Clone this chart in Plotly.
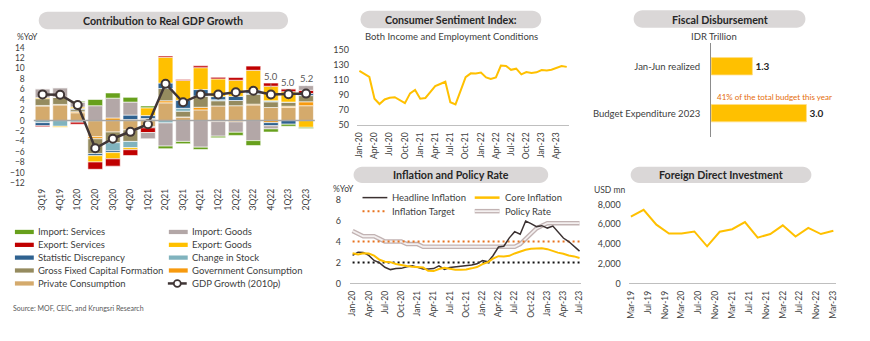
import plotly.graph_objects as go
import pandas as pd

W, H = 870, 341
FONT = "Lato"
TC = "#404040"
TITLE_C = "#262626"
PILL_C = "#dad7d7"

def px(x):
    return x / W

def py(y):
    return 1 - y / H

# ---------------- DATA ----------------
quarters = ["3Q19", "4Q19", "1Q20", "2Q20", "3Q20", "4Q20", "1Q21", "2Q21",
            "3Q21", "4Q21", "1Q22", "2Q22", "3Q22", "4Q22", "1Q23", "2Q23"]
private_cons = [2.8, 3.0, 1.5, -3.1, -2.2, -1.8, -1.2, 3.4, 0.7, 2.05, 2.8, 2.85, 3.0, 2.5, 2.5, 2.85]
gov_cons = [0.1, 0.1, 0.2, -0.4, 0.5, 0.2, 0.2, 0.4, 0.0, 0.5, -0.2, -0.25, 0.15, -0.4, 0.25, 0.75]
gfcf = [1.3, 1.4, 0.4, -2.85, -2.05, -2.2, 0.2, 2.35, 1.1, 2.15, 1.0, 1.0, 1.9, 1.1, 0.8, 1.2]
change_stock = [-0.4, -1.1, -0.3, 0.0, -1.55, -1.2, -0.2, -0.45, 0.55, 0.0, 0.2, 0.0, 0.2, 0.2, 0.0, 0.0]
stat_disc = [-0.6, 0.0, 0.2, -0.4, -0.35, 0.85, 0.55, 1.05, 1.55, 1.25, 0.6, 0.8, 0.6, -0.6, -0.7, 0.4]
export_goods = [0.2, -0.2, 0.3, -1.2, -1.2, -0.4, 1.5, 4.95, 3.8, 4.2, 3.4, 3.1, 3.8, 2.8, 2.0, -1.3]
export_serv = [-0.2, 0.0, -0.4, -1.4, -1.4, -1.1, -0.9, 0.25, 0.2, 0.35, 0.3, 0.5, 0.8, 0.6, 0.55, 0.6]
import_goods = [1.7, 1.8, 0.9, 2.85, 3.8, 2.5, -1.2, -4.45, -4.0, -5.1, -2.8, -2.0, -3.85, -0.6, 0.0, 0.9]
import_serv = [0.0, 0.0, 0.2, 1.2, 1.0, 0.9, 0.35, -0.5, -0.45, -0.45, -0.3, -0.6, -0.95, -0.6, -0.4, -0.2]
gdp_growth = [5.02, 4.97, 2.97, -5.32, -3.49, -2.17, -0.70, 7.07, 3.51, 5.02, 5.01, 5.44, 5.72, 5.01, 5.04, 5.17]
gdp_labelled = ["4Q22", "1Q23", "2Q23"]

csi_months = pd.date_range("2020-01-01", "2023-06-01", freq="MS")
csi_values = [121.7, 117.7, 113.8, 84.8, 77.8, 83.8, 86.2, 86.9, 83.4, 79.0, 92.0, 96.5,
              84.9, 85.8, 93.4, 101.5, 104.4, 107.4, 80.2, 77.3, 95.5, 113.4, 118.5, 118.3,
              119.6, 113.1, 111.0, 113.1, 128.9, 128.2, 123.2, 124.7, 117.2, 120.3, 119.1, 119.9,
              123.0, 122.4, 123.3, 126.1, 128.3, 127.1]

fiscal_cats = ["Jan-Jun realized", "Budget Expenditure 2023"]
fiscal_values = [1.3, 3.0]

infl_months = pd.date_range("2020-01-01", "2023-07-01", freq="MS")
headline = [2.68, 2.98, 2.96, 2.67, 2.19, 1.96, 1.54, 1.32, 1.42, 1.44, 1.59, 1.68,
            1.55, 1.38, 1.37, 1.42, 1.68, 1.33, 1.52, 1.59, 1.60, 1.66, 1.75, 1.87,
            2.18, 2.06, 2.64, 3.47, 3.55, 4.35, 4.94, 4.69, 5.95, 5.71, 5.42, 5.51,
            5.28, 5.47, 4.97, 4.33, 4.00, 3.52, 3.08]
core = [2.88, 2.76, 2.87, 2.85, 2.65, 2.26, 2.07, 2.03, 1.86, 1.74, 1.67, 1.60,
        1.56, 1.53, 1.21, 1.18, 1.37, 1.49, 1.40, 1.31, 1.30, 1.33, 1.44, 1.56,
        1.84, 2.03, 2.37, 2.60, 2.58, 2.63, 2.86, 3.04, 3.21, 3.31, 3.30, 3.36,
        3.27, 3.09, 2.94, 2.83, 2.66, 2.58, 2.43]
policy_rate = [5.00, 4.75, 4.50, 4.50, 4.50, 4.25, 4.00, 4.00, 4.00, 4.00, 3.75, 3.75,
               3.75, 3.50, 3.50, 3.50, 3.50, 3.50, 3.50, 3.50, 3.50, 3.50, 3.50, 3.50,
               3.50, 3.50, 3.50, 3.50, 3.50, 3.50, 3.50, 3.75, 4.25, 4.75, 5.25, 5.50,
               5.75, 5.75, 5.75, 5.75, 5.75, 5.75, 5.75]
target_upper = 4.0
target_lower = 2.0

fdi_quarters = ["2019-03-01", "2019-06-01", "2019-09-01", "2019-12-01", "2020-03-01", "2020-06-01",
                "2020-09-01", "2020-12-01", "2021-03-01", "2021-06-01", "2021-09-01", "2021-12-01",
                "2022-03-01", "2022-06-01", "2022-09-01", "2022-12-01", "2023-03-01"]
fdi_values = [6760, 7450, 5950, 5060, 5060, 5260, 3760, 5230, 5490, 6210, 4640, 5000,
              5880, 4740, 5620, 5000, 5330]

# ---------------- STYLE ----------------
components = [
    ("Private Consumption", private_cons, "#d4aa6c"),
    ("Government Consumption", gov_cons, "#f79a0e"),
    ("Gross Fixed Capital Formation", gfcf, "#958b5f"),
    ("Change in Stock", change_stock, "#80b3be"),
    ("Statistic Discrepancy", stat_disc, "#2f6290"),
    ("Export: Goods", export_goods, "#ffc000"),
    ("Export: Services", export_serv, "#c00000"),
    ("Import: Goods", import_goods, "#b3a7a7"),
    ("Import: Services", import_serv, "#67a01c"),
]
comp_color = {n: c for n, _, c in components}
GDP_NAME = "GDP Growth (2010p)"
GDP_C = "#3f3535"
YEL = "#ffc000"

fig = go.Figure()

for name, vals, color in components:
    fig.add_trace(go.Bar(x=quarters, y=vals, name=name, width=0.84,
                         marker=dict(color=color, line=dict(color="white", width=0.6)),
                         xaxis="x", yaxis="y", showlegend=False))
fig.add_trace(go.Scatter(x=quarters, y=gdp_growth, name=GDP_NAME, mode="lines+markers",
                         line=dict(color=GDP_C, width=2.5),
                         marker=dict(size=8, color="white", line=dict(color=GDP_C, width=2)),
                         xaxis="x", yaxis="y", showlegend=False))

fig.add_trace(go.Scatter(x=csi_months, y=csi_values, mode="lines", name="CSI",
                         line=dict(color=YEL, width=2), xaxis="x2", yaxis="y2", showlegend=False))

fig.add_trace(go.Bar(y=fiscal_cats, x=fiscal_values, orientation="h", width=0.37,
                     marker=dict(color=YEL, line=dict(color="#ffe08a", width=0.8)),
                     texttemplate="<b>%{x:.1f}</b>", textposition="outside", cliponaxis=False,
                     textfont=dict(size=10, color=TITLE_C, family=FONT),
                     xaxis="x3", yaxis="y3", showlegend=False))

# inflation
fig.add_trace(go.Scatter(x=infl_months, y=policy_rate, mode="lines", line=dict(color="#c2b3b3", width=4.5),
                         xaxis="x4", yaxis="y4", showlegend=False, name="Policy Rate"))
fig.add_trace(go.Scatter(x=infl_months, y=policy_rate, mode="lines", line=dict(color="#f4f0f0", width=1.8),
                         xaxis="x4", yaxis="y4", showlegend=False, hoverinfo="skip"))
fig.add_trace(go.Scatter(x=[infl_months[0], infl_months[-1]], y=[target_upper, target_upper], mode="lines",
                         line=dict(color="#e8731f", width=2, dash="2px,3px"),
                         xaxis="x4", yaxis="y4", showlegend=False, name="Inflation Target"))
fig.add_trace(go.Scatter(x=[infl_months[0], infl_months[-1]], y=[target_lower, target_lower], mode="lines",
                         line=dict(color="#111111", width=2, dash="2px,3px"),
                         xaxis="x4", yaxis="y4", showlegend=False, name="Inflation Target (lower)"))
fig.add_trace(go.Scatter(x=infl_months, y=headline, mode="lines", line=dict(color="#3b3131", width=1.5),
                         xaxis="x4", yaxis="y4", showlegend=False, name="Headline Inflation"))
fig.add_trace(go.Scatter(x=infl_months, y=core, mode="lines", line=dict(color=YEL, width=2),
                         xaxis="x4", yaxis="y4", showlegend=False, name="Core Inflation"))

fig.add_trace(go.Scatter(x=fdi_quarters, y=fdi_values, mode="lines", line=dict(color=YEL, width=2),
                         xaxis="x5", yaxis="y5", showlegend=False, name="FDI"))

tickf = dict(size=9, color=TC, family=FONT)
xtickf = dict(size=8.5, color=TC, family=FONT)
common = dict(showgrid=False, zeroline=False, ticks="", fixedrange=True)

fig.update_layout(
    width=W, height=H, autosize=False,
    margin=dict(l=0, r=0, t=0, b=0),
    paper_bgcolor="white", plot_bgcolor="white",
    barmode="relative",
    font=dict(family=FONT, color=TC),
    xaxis=dict(domain=[px(31), px(314)], anchor="y", type="category", range=[-0.5, 15.5],
               tickangle=-90, tickfont=xtickf, ticklabelstandoff=3, **common),
    yaxis=dict(domain=[py(183), py(43)], anchor="x", range=[-12, 14], dtick=2,
               tickfont=dict(size=8.5, color=TC, family=FONT), ticklabelstandoff=8, **common),
    xaxis2=dict(domain=[px(356.5), px(570)], anchor="y2", type="date",
                range=["2019-12-18", "2023-06-15"], dtick="M3", tick0="2020-01-01", tickformat="%b-%y",
                tickangle=-90, tickfont=xtickf, showline=True, linecolor="#bfbfbf", linewidth=1,
                ticklabelstandoff=3, **common),
    yaxis2=dict(domain=[py(123), py(45)], anchor="x2", range=[49.9, 150.1], dtick=20, tick0=50,
                tickfont=tickf, ticklabelstandoff=7, **common),
    xaxis3=dict(domain=[px(713), px(841)], anchor="y3", range=[0, 4], visible=False, fixedrange=True),
    yaxis3=dict(domain=[py(135), py(38)], anchor="x3", type="category", categoryorder="array",
                categoryarray=list(reversed(fiscal_cats)), showline=True, linecolor="#8c8c8c",
                linewidth=1, tickfont=dict(size=9.5, color=TC, family=FONT), ticklabelstandoff=8, **common),
    xaxis4=dict(domain=[px(349.5), px(582.5)], anchor="y4", type="date",
                range=["2019-12-18", "2023-07-12"], dtick="M3", tick0="2020-01-01", tickformat="%b-%y",
                tickangle=-90, tickfont=xtickf, showline=True, linecolor="#bfbfbf", linewidth=1,
                ticklabelstandoff=3, **common),
    yaxis4=dict(domain=[py(286.7), py(200)], anchor="x4", range=[0, 8], dtick=2,
                tickfont=tickf, ticklabelstandoff=8, **common),
    xaxis5=dict(domain=[px(630), px(838.5)], anchor="y5", type="date",
                range=["2019-02-13", "2023-03-18"], dtick="M4", tick0="2019-03-01", tickformat="%b-%y",
                tickangle=-90, tickfont=xtickf, showline=True, linecolor="#bfbfbf", linewidth=1,
                ticklabelstandoff=3, **common),
    yaxis5=dict(domain=[py(286.7), py(205)], anchor="x5", range=[0, 8000], dtick=2000, tickformat=",d",
                tickfont=tickf, ticklabelstandoff=7, **common),
)

shapes = []
annos = []

def pill(x0, y0, x1, y1):
    r = (y1 - y0) / 2
    k = 0.5523 * r
    def P(x, y):
        return f"{px(x):.5f},{py(y):.5f}"
    path = (f"M {P(x0 + r, y0)} L {P(x1 - r, y0)} "
            f"C {P(x1 - r + k, y0)} {P(x1, y0 + r - k)} {P(x1, y0 + r)} "
            f"C {P(x1, y0 + r + k)} {P(x1 - r + k, y1)} {P(x1 - r, y1)} "
            f"L {P(x0 + r, y1)} "
            f"C {P(x0 + r - k, y1)} {P(x0, y0 + r + k)} {P(x0, y0 + r)} "
            f"C {P(x0, y0 + r - k)} {P(x0 + r - k, y0)} {P(x0 + r, y0)} Z")
    shapes.append(dict(type="path", xref="paper", yref="paper", path=path,
                       fillcolor=PILL_C, line=dict(width=0), layer="below"))

def text(x, y, s, size=9.5, color=TC, xanchor="left", bold=False):
    annos.append(dict(xref="paper", yref="paper", x=px(x), y=py(y), text=(f"<b>{s}</b>" if bold else s),
                      showarrow=False, xanchor=xanchor, yanchor="middle",
                      font=dict(size=size, color=color, family=FONT)))

# titles
for (x0, y0, x1, y1, t) in [(36, 6, 287, 24, "Contribution to Real GDP Growth"),
                            (360, 5, 542, 23, "Consumer Sentiment Index:"),
                            (635, 4.5, 808, 22.5, "Fiscal Disbursement"),
                            (353, 166, 549, 183, "Inflation and Policy Rate"),
                            (632, 166, 814, 183, "Foreign Direct Investment")]:
    pill(x0, y0, x1, y1)
    text((x0 + x1) / 2, (y0 + y1) / 2, t, size=10.7, color=TITLE_C, xanchor="center", bold=True)

text(452, 32, "Both Income and Employment Conditions", size=9.5, xanchor="center")
text(12, 32, "%YoY", size=8.5)
text(330, 189, "%YoY", size=8.5)
text(593, 190, "USD mn", size=8.5)
text(716, 32, "IDR Trillion", size=9.5, xanchor="center")
text(717, 94, "41% of the total budget this year", size=8, color="#e46c0a")
text(8, 313, "Source: MOF, CEIC, and Krungsri Research", size=7, color="#595959")

# GDP zero line
shapes.append(dict(type="line", xref="x domain", yref="y", x0=0, x1=1, y0=0, y1=0,
                   line=dict(color="#a6a6a6", width=1.5), layer="above"))

# GDP data labels
for q in gdp_labelled:
    i = quarters.index(q)
    top = sum(v[i] for _, v, _ in components if v[i] > 0)
    annos.append(dict(xref="x", yref="y", x=q, y=gdp_growth[i], text=f"{gdp_growth[i]:.1f}",
                      showarrow=True, arrowhead=0, arrowwidth=0.7, arrowcolor="#a6a6a6",
                      ax=0, ayref="y", ay=top + 1.3, standoff=6,
                      font=dict(size=9.5, color="#595959", family=FONT)))

# GDP legend (manual, 2 columns)
rows = [233.5, 246.8, 260, 273.3, 286.7]
left_items = ["Import: Services", "Export: Services", "Statistic Discrepancy",
              "Gross Fixed Capital Formation", "Private Consumption"]
right_items = ["Import: Goods", "Export: Goods", "Change in Stock", "Government Consumption", GDP_NAME]
for col_x, items in [(12, left_items), (167, right_items)]:
    for name, yy in zip(items, rows):
        if name == GDP_NAME:
            shapes.append(dict(type="line", xref="paper", yref="paper", x0=px(col_x - 1), x1=px(col_x + 18),
                               y0=py(yy), y1=py(yy), line=dict(color=GDP_C, width=2.5)))
            shapes.append(dict(type="circle", xref="paper", yref="paper", x0=px(col_x + 5), x1=px(col_x + 12),
                               y0=py(yy + 3.5), y1=py(yy - 3.5), fillcolor="white",
                               line=dict(color=GDP_C, width=1.8)))
        else:
            shapes.append(dict(type="rect", xref="paper", yref="paper", x0=px(col_x), x1=px(col_x + 19),
                               y0=py(yy + 2.2), y1=py(yy - 2.2), fillcolor=comp_color[name],
                               line=dict(width=0)))
        text(col_x + 21, yy, name, size=9.5)

# Inflation legend (manual)
def leg_line(x0, y, color, width, dash=None):
    d = dict(color=color, width=width)
    if dash:
        d["dash"] = dash
    shapes.append(dict(type="line", xref="paper", yref="paper", x0=px(x0), x1=px(x0 + 25),
                       y0=py(y), y1=py(y), line=d))

leg_line(362, 198, "#3b3131", 1.5)
text(390, 198, "Headline Inflation", size=9.5)
leg_line(475, 198, YEL, 2.5)
text(503, 198, "Core Inflation", size=9.5)
leg_line(362, 212, "#e8731f", 2, "2px,3px")
text(390, 212, "Inflation Target", size=9.5)
leg_line(475, 212, "#c2b3b3", 4.5)
leg_line(475, 212, "#f4f0f0", 1.8)
text(503, 212, "Policy Rate", size=9.5)

fig.update_layout(shapes=shapes, annotations=annos)
fig.write_html("out.html")
